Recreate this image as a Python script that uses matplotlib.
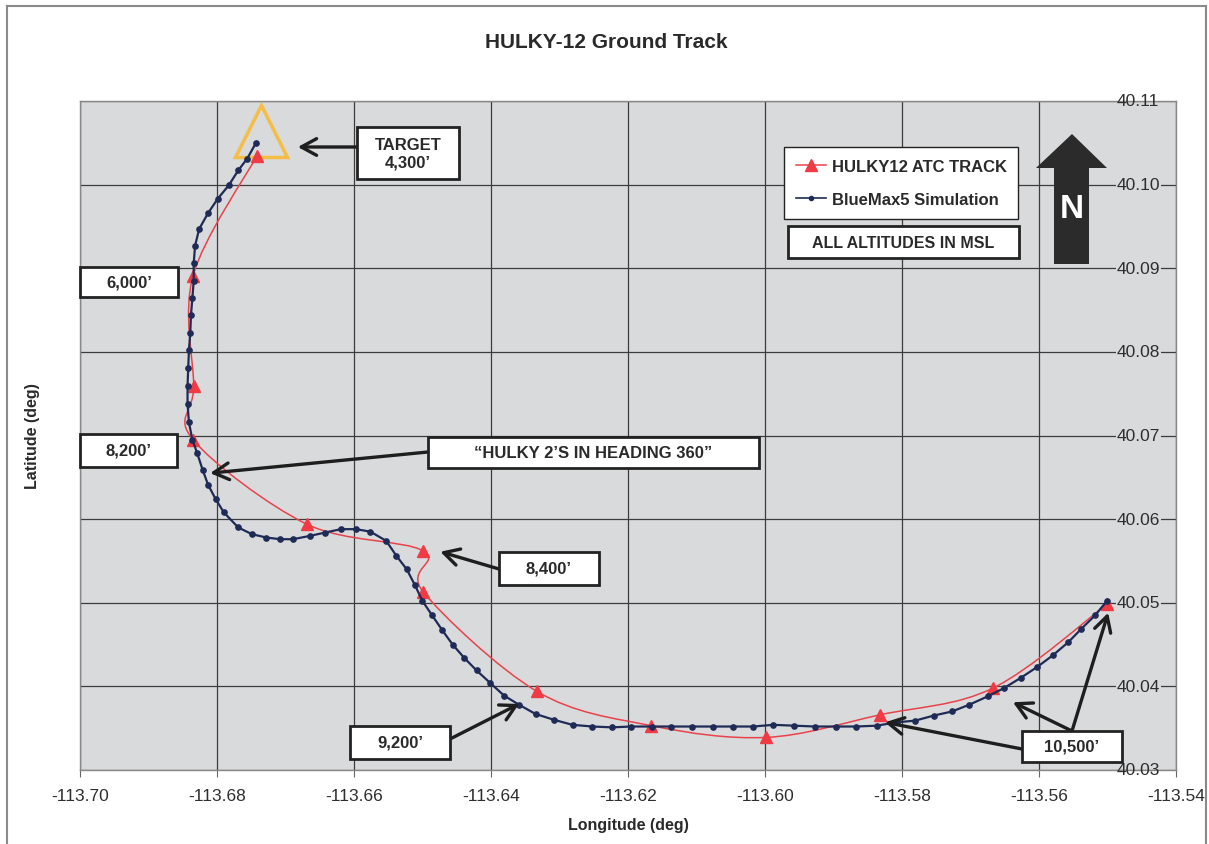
import numpy as np
import matplotlib
matplotlib.use("Agg")
import matplotlib.pyplot as plt
from matplotlib.path import Path
from matplotlib.patches import PathPatch, Rectangle, Polygon
from matplotlib.lines import Line2D

plt.rcParams['font.family'] = ['Liberation Sans', 'DejaVu Sans']

W, H = 1209, 845

# HULKY12 ATC radar track (lon, lat)
atc_lon = [-113.6742, -113.6835, -113.6834, -113.6835, -113.6669, -113.6499, -113.6499,
           -113.6333, -113.6166, -113.5998, -113.5832, -113.5667, -113.5501]
atc_lat = [40.1034, 40.0891, 40.0759, 40.0695, 40.0594, 40.0562, 40.0513,
           40.0394, 40.0353, 40.0339, 40.0366, 40.0398, 40.0498]

# BlueMax5 simulation ground track
sim_lon = [-113.6743, -113.6756, -113.6769, -113.6783, -113.6799, -113.6813, -113.6826, -113.6832,
           -113.6834, -113.6834, -113.6836, -113.6838, -113.6839, -113.6841, -113.6842, -113.6843,
           -113.6843, -113.6841, -113.6836, -113.6829, -113.6821, -113.6813, -113.6802, -113.6790,
           -113.6769, -113.6749, -113.6728, -113.6708, -113.6689, -113.6664, -113.6642, -113.6619,
           -113.6597, -113.6576, -113.6553, -113.6538, -113.6523, -113.6511, -113.6500, -113.6486,
           -113.6471, -113.6456, -113.6439, -113.6421, -113.6401, -113.6381, -113.6359, -113.6335,
           -113.6308, -113.6281, -113.6252, -113.6223, -113.6196, -113.6165, -113.6137, -113.6107,
           -113.6076, -113.6047, -113.6017, -113.5988, -113.5957, -113.5927, -113.5897, -113.5867,
           -113.5837, -113.5808, -113.5781, -113.5754, -113.5727, -113.5702, -113.5675, -113.5651,
           -113.5627, -113.5603, -113.5580, -113.5557, -113.5538, -113.5518, -113.5501]
sim_lat = [40.1050, 40.1031, 40.1017, 40.0999, 40.0983, 40.0966, 40.0947, 40.0927,
           40.0906, 40.0885, 40.0864, 40.0844, 40.0823, 40.0802, 40.0781, 40.0759,
           40.0738, 40.0716, 40.0695, 40.0679, 40.0659, 40.0641, 40.0624, 40.0608,
           40.0590, 40.0582, 40.0578, 40.0576, 40.0576, 40.0580, 40.0584, 40.0588,
           40.0588, 40.0585, 40.0574, 40.0556, 40.0540, 40.0521, 40.0502, 40.0485,
           40.0467, 40.0450, 40.0434, 40.0419, 40.0404, 40.0389, 40.0378, 40.0367,
           40.0360, 40.0354, 40.0352, 40.0351, 40.0352, 40.0352, 40.0352, 40.0352,
           40.0352, 40.0352, 40.0352, 40.0354, 40.0353, 40.0352, 40.0352, 40.0352,
           40.0353, 40.0357, 40.0359, 40.0365, 40.0370, 40.0378, 40.0388, 40.0398,
           40.0410, 40.0423, 40.0437, 40.0453, 40.0469, 40.0485, 40.0502]

target_lon, target_lat = -113.6736, 40.1064

x_ticks = [-113.70, -113.68, -113.66, -113.64, -113.62, -113.60, -113.58, -113.56, -113.54]
y_ticks = [40.03, 40.04, 40.05, 40.06, 40.07, 40.08, 40.09, 40.10, 40.11]

# callout text and the point each arrow points at
callouts = ["TARGET\n4,300\u2019", "6,000\u2019", "8,200\u2019",
            "\u201cHULKY 2\u2019S IN HEADING 360\u201d", "8,400\u2019", "9,200\u2019", "10,500\u2019"]
arrow_tips = [(-113.6682, 40.1045), None, None, (-113.6810, 40.0655),
              (-113.6474, 40.0561), (-113.6359, 40.0379),
              [(-113.5499, 40.0488), (-113.5638, 40.0381), (-113.5825, 40.0357)]]

# layout in image pixels: box (x0, y0, x1, y1) and arrow tails
box_px = [(357, 128, 459, 180), (80, 268, 178, 298), (80, 435, 177, 468),
          (428, 438, 759, 469), (499, 553, 599, 586), (350, 727, 450, 760),
          (1022, 732, 1122, 763)]
tail_px = [(357, 148), None, None, (428, 453), (499, 570), (450, 740),
           [(1072, 732), (1072, 732), (1022, 750)]]


def fx(px):
    return px / W


def fy(py):
    return 1 - py / H


def smooth_path(xs, ys):
    pts = np.column_stack([xs, ys])
    n = len(pts)
    verts = [pts[0]]
    codes = [Path.MOVETO]
    for i in range(n - 1):
        p0 = pts[max(i - 1, 0)]
        p1 = pts[i]
        p2 = pts[i + 1]
        p3 = pts[min(i + 2, n - 1)]
        verts += [p1 + (p2 - p0) / 6, p2 - (p3 - p1) / 6, p2]
        codes += [Path.CURVE4] * 3
    return Path(verts, codes)


fig = plt.figure(figsize=(W / 100, H / 100), dpi=100)
ax = fig.add_axes([fx(80), fy(771), fx(1176) - fx(80), fy(102) - fy(771)])
ax.set_facecolor('#d9dadb')
ax.set_xlim(-113.70, -113.54)
ax.set_ylim(40.03, 40.11)

ax.set_xticks(x_ticks)
ax.set_xticklabels(["%.2f" % v for v in x_ticks], fontsize=12.5, color='#2e2e2e')
ax.set_yticks(y_ticks)
ax.set_yticklabels([])
ax.tick_params(axis='y', length=0)
ax.tick_params(axis='x', length=5, color='#666666', pad=8)
ax.grid(True, color='#3c3c3c', lw=0.9)
ax.set_axisbelow(True)
for s in ax.spines.values():
    s.set_color('#888888')
    s.set_linewidth(1.0)

# y labels sit on the axis crossing at -113.55, over the gridlines
for v in y_ticks:
    inner = y_ticks[0] < v < y_ticks[-1]
    ax.text(-113.5487, v, "%.2f" % v, fontsize=12.5, color='#2e2e2e', va='center', ha='left',
            bbox=dict(boxstyle='square,pad=0.05', fc='#d9dadb', ec='none') if inner else None,
            zorder=3)

# target marker
ax.plot(target_lon, target_lat, marker='^', ms=37, mfc='none', mec='#f5bd45', mew=2.5, zorder=2)

# ATC track, smoothed
ax.add_patch(PathPatch(smooth_path(atc_lon, atc_lat), fc='none', ec='#e8434c', lw=1.1, zorder=4))
ax.plot(atc_lon, atc_lat, ls='none', marker='^', ms=9, color='#f03a44', zorder=5)

# simulation
ax.plot(sim_lon, sim_lat, '-o', color='#1f2b57', lw=1.6, ms=3.8, zorder=6)

# callout boxes and arrows
for text, (x0, y0, x1, y1) in zip(callouts, box_px):
    fig.patches.append(Rectangle((fx(x0), fy(y1)), fx(x1) - fx(x0), fy(y0) - fy(y1),
                                 transform=fig.transFigure, fc='white', ec='#222222', lw=2, zorder=8))
    fig.text(fx((x0 + x1) / 2), fy((y0 + y1) / 2), text, ha='center', va='center',
             fontsize=12, fontweight='bold', color='#2a2a2a', linespacing=1.25, zorder=9)

for tips, tails in zip(arrow_tips, tail_px):
    if tips is None:
        continue
    if not isinstance(tips, list):
        tips, tails = [tips], [tails]
    for tip, tail in zip(tips, tails):
        ax.annotate('', xy=tip, xycoords='data', xytext=(fx(tail[0]), fy(tail[1])),
                    textcoords='figure fraction', zorder=7,
                    arrowprops=dict(arrowstyle='->,head_length=0.55,head_width=0.3', mutation_scale=20,
                                    color='#1e1e1e', lw=2.4, shrinkA=0, shrinkB=0))

# legend
handles = [Line2D([], [], color='#e8434c', lw=1.1, marker='^', ms=9, mfc='#f03a44', mec='#f03a44'),
           Line2D([], [], color='#1f2b57', lw=1.2, marker='o', ms=3)]
leg = fig.legend(handles, ["HULKY12 ATC TRACK", "BlueMax5 Simulation"],
                 loc='upper left', bbox_to_anchor=(fx(784), fy(148)),
                 prop=dict(weight='bold', size=12), frameon=True, fancybox=False,
                 edgecolor='#222222', framealpha=1, handlelength=1.8, borderpad=0.7,
                 labelspacing=1.1, handletextpad=0.35, borderaxespad=0)
leg.get_frame().set_linewidth(1.0)
for t in leg.get_texts():
    t.set_color('#2a2a2a')

fig.patches.append(Rectangle((fx(788), fy(259)), fx(1019) - fx(788), fy(227) - fy(259),
                             transform=fig.transFigure, fc='white', ec='#222222', lw=2, zorder=8))
fig.text(fx(903.5), fy(243), "ALL ALTITUDES IN MSL", ha='center', va='center',
         fontsize=11.5, fontweight='bold', color='#2a2a2a', zorder=9)

# north arrow
north = [(1054, 265), (1054, 169), (1036, 169), (1072, 135), (1107, 169), (1089, 169), (1089, 265)]
fig.patches.append(Polygon([(fx(px), fy(py)) for px, py in north], closed=True,
                           transform=fig.transFigure, fc='#2b2b2b', ec='none', zorder=8))
fig.text(fx(1072), fy(209), "N", ha='center', va='center', fontsize=24, fontweight='bold',
         color='white', zorder=9)

# titles
fig.text(fx(606), fy(42), "HULKY-12 Ground Track", ha='center', va='center',
         fontsize=15, fontweight='bold', color='#2a2a2a')
fig.text(fx(628), fy(826), "Longitude (deg)", ha='center', va='center',
         fontsize=11.5, fontweight='bold', color='#2a2a2a')
fig.text(fx(32), fy(436), "Latitude (deg)", ha='center', va='center', rotation=90,
         fontsize=11.5, fontweight='bold', color='#2a2a2a')

# page border
for xs, ys in [((7, 7), (7, 845)), ((7, 1206), (7, 7)), ((1206, 1206), (7, 845))]:
    fig.add_artist(Line2D([fx(x) for x in xs], [fy(y) for y in ys], color='#8a8a8a', lw=1.5))

fig.savefig("out.png", dpi=100)
